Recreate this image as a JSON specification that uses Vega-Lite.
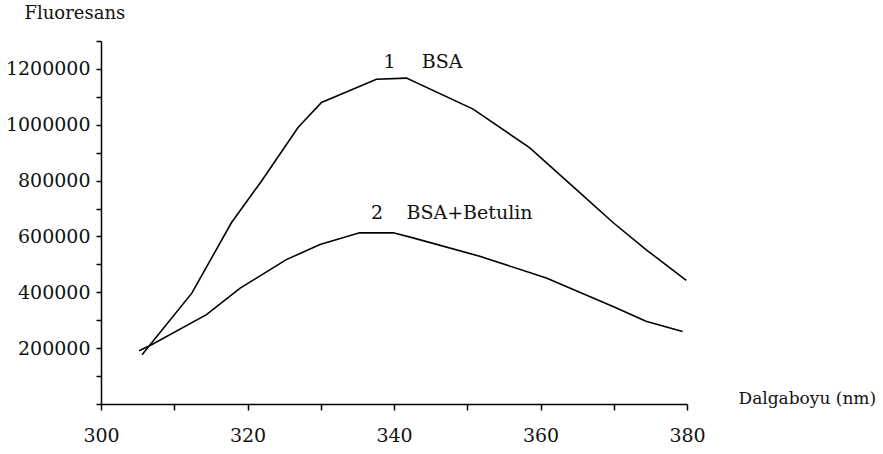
{
  "$schema": "https://vega.github.io/schema/vega-lite/v6.json",
  "autosize": "none",
  "width": 586,
  "height": 363,
  "padding": {"left": 101, "top": 41, "right": 196, "bottom": 50},
  "background": "white",
  "config": {
    "view": {"stroke": null},
    "font": "DejaVu Serif",
    "text": {"font": "DejaVu Serif", "fontSize": 19},
    "axis": {
      "domainColor": "black",
      "domainWidth": 1.5,
      "tickColor": "black",
      "tickWidth": 1.5,
      "grid": false,
      "labelFont": "DejaVu Serif",
      "labelFontSize": 19,
      "labelColor": "#111",
      "labelOverlap": false,
      "labelFlush": false,
      "titleFont": "DejaVu Serif",
      "titleFontSize": 18,
      "titleFontWeight": "normal",
      "titleColor": "#111"
    }
  },
  "datasets": {
    "spectra": [
      {"wavelength": 305.6, "fluorescence": 176000, "sample": "BSA"},
      {"wavelength": 312.4, "fluorescence": 397000, "sample": "BSA"},
      {"wavelength": 317.8, "fluorescence": 649000, "sample": "BSA"},
      {"wavelength": 321.9, "fluorescence": 798000, "sample": "BSA"},
      {"wavelength": 326.9, "fluorescence": 990000, "sample": "BSA"},
      {"wavelength": 330.1, "fluorescence": 1080000, "sample": "BSA"},
      {"wavelength": 337.6, "fluorescence": 1163000, "sample": "BSA"},
      {"wavelength": 341.7, "fluorescence": 1167000, "sample": "BSA"},
      {"wavelength": 350.8, "fluorescence": 1056000, "sample": "BSA"},
      {"wavelength": 358.5, "fluorescence": 918000, "sample": "BSA"},
      {"wavelength": 364.9, "fluorescence": 768000, "sample": "BSA"},
      {"wavelength": 369.9, "fluorescence": 650000, "sample": "BSA"},
      {"wavelength": 374.4, "fluorescence": 553000, "sample": "BSA"},
      {"wavelength": 379.9, "fluorescence": 443000, "sample": "BSA"},
      {"wavelength": 305.2, "fluorescence": 191000, "sample": "BSA+Betulin"},
      {"wavelength": 306.9, "fluorescence": 212000, "sample": "BSA+Betulin"},
      {"wavelength": 314.4, "fluorescence": 320000, "sample": "BSA+Betulin"},
      {"wavelength": 319.0, "fluorescence": 415000, "sample": "BSA+Betulin"},
      {"wavelength": 325.3, "fluorescence": 517000, "sample": "BSA+Betulin"},
      {"wavelength": 329.9, "fluorescence": 571000, "sample": "BSA+Betulin"},
      {"wavelength": 335.3, "fluorescence": 613000, "sample": "BSA+Betulin"},
      {"wavelength": 339.9, "fluorescence": 613000, "sample": "BSA+Betulin"},
      {"wavelength": 342.6, "fluorescence": 595000, "sample": "BSA+Betulin"},
      {"wavelength": 351.7, "fluorescence": 529000, "sample": "BSA+Betulin"},
      {"wavelength": 360.8, "fluorescence": 451000, "sample": "BSA+Betulin"},
      {"wavelength": 369.9, "fluorescence": 349000, "sample": "BSA+Betulin"},
      {"wavelength": 374.4, "fluorescence": 296000, "sample": "BSA+Betulin"},
      {"wavelength": 379.4, "fluorescence": 260000, "sample": "BSA+Betulin"}
    ],
    "curveLabels": [
      {"wavelength": 339.4, "fluorescence": 1203000, "label": "1", "anchor": "center"},
      {"wavelength": 343.8, "fluorescence": 1203000, "label": "BSA", "anchor": "left"},
      {"wavelength": 337.7, "fluorescence": 661000, "label": "2", "anchor": "center"},
      {"wavelength": 341.7, "fluorescence": 661000, "label": "BSA+Betulin", "anchor": "left"}
    ]
  },
  "encoding": {
    "x": {
      "field": "wavelength",
      "type": "quantitative",
      "scale": {"domain": [300, 380], "nice": false, "zero": false},
      "axis": {
        "values": [300, 310, 320, 330, 340, 350, 360, 370, 380],
        "labelExpr": "datum.value % 20 == 0 ? datum.label : ''",
        "format": "d",
        "tickSize": 6,
        "labelPadding": 16,
        "title": "Dalgaboyu (nm)",
        "titleFontSize": 17,
        "titleAngle": 0,
        "titleX": 637,
        "titleY": -1,
        "titleAlign": "left",
        "titleBaseline": "alphabetic"
      }
    },
    "y": {
      "field": "fluorescence",
      "type": "quantitative",
      "scale": {"domain": [0, 1300000], "nice": false},
      "axis": {
        "values": [0, 100000, 200000, 300000, 400000, 500000, 600000, 700000, 800000, 900000, 1000000, 1100000, 1200000, 1300000],
        "labelExpr": "datum.value > 0 && datum.value % 200000 == 0 ? datum.label : ''",
        "format": "d",
        "tickSize": 5,
        "labelPadding": 6,
        "title": "Fluoresans",
        "titleAngle": 0,
        "titleX": -77,
        "titleY": -23,
        "titleAlign": "left",
        "titleBaseline": "alphabetic"
      }
    }
  },
  "layer": [
    {
      "data": {"name": "spectra"},
      "mark": {"type": "line", "color": "black", "strokeWidth": 1.6, "interpolate": "linear"},
      "encoding": {
        "detail": {"field": "sample", "type": "nominal"}
      }
    },
    {
      "data": {"name": "curveLabels"},
      "transform": [{"filter": "datum.anchor == 'center'"}],
      "mark": {"type": "text", "align": "center", "baseline": "alphabetic", "color": "#111"},
      "encoding": {"text": {"field": "label"}}
    },
    {
      "data": {"name": "curveLabels"},
      "transform": [{"filter": "datum.anchor == 'left'"}],
      "mark": {"type": "text", "align": "left", "baseline": "alphabetic", "color": "#111"},
      "encoding": {"text": {"field": "label"}}
    }
  ]
}
